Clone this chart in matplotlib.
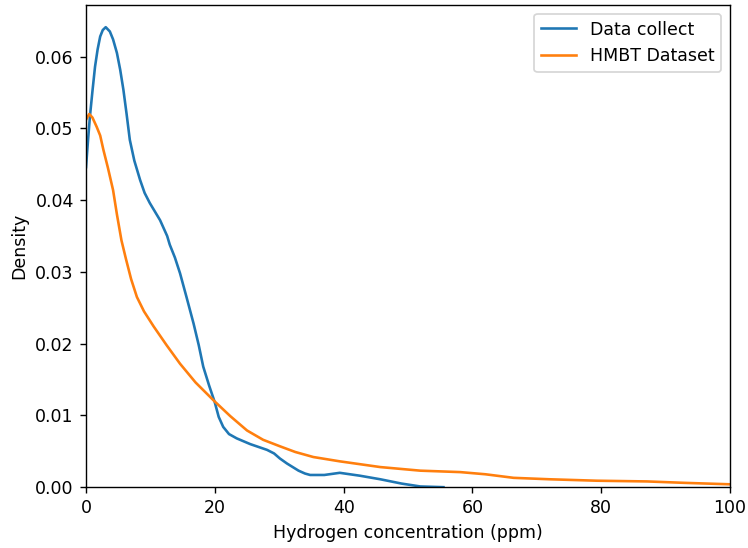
import matplotlib
matplotlib.use("Agg")
import matplotlib.pyplot as plt

# Data collect (blue) density curve
dc_x = [0.0, 0.3, 0.6, 1.0, 1.4, 1.8, 2.2, 2.6, 3.06, 3.7, 4.2, 4.8, 5.3, 5.8, 6.3, 6.8,
        7.5, 8.4, 9.1, 9.9, 10.7, 11.5, 12.6, 13.0, 13.8, 14.6, 15.6, 16.7, 17.5, 18.2,
        19.1, 20.0, 20.6, 21.3, 22.2, 23.4, 25.5, 28.1, 29.2, 30.1, 31.2, 33.0, 34.0,
        34.8, 37.0, 39.4, 42.5, 45.7, 49.0, 51.9, 55.5]
dc_y = [0.0446, 0.0482, 0.0516, 0.0552, 0.0586, 0.0610, 0.0628, 0.0637, 0.0641, 0.0635,
        0.0624, 0.0605, 0.0582, 0.0554, 0.0520, 0.0484, 0.0455, 0.0428, 0.0410, 0.0396,
        0.0384, 0.0372, 0.0350, 0.0338, 0.0320, 0.0298, 0.0265, 0.0228, 0.0198, 0.0168,
        0.0142, 0.0118, 0.0098, 0.0084, 0.0074, 0.0068, 0.0060, 0.0052, 0.0047, 0.0040,
        0.0033, 0.0023, 0.0019, 0.0017, 0.0017, 0.0020, 0.0016, 0.0011, 0.0005, 0.0001,
        0.0000]

# HMBT Dataset (orange) density curve
hm_x = [0.0, 0.5, 1.0, 1.66, 2.2, 2.7, 3.4, 4.2, 4.8, 5.5, 6.2, 7.0, 7.9, 9.0, 10.5,
        12.5, 14.6, 17.0, 19.8, 22.4, 25.0, 27.5, 30.1, 32.5, 35.3, 39.4, 45.7, 51.9,
        58.1, 62.0, 66.4, 72.0, 79.3, 87.1, 93.0, 100.0]
hm_y = [0.0512, 0.0520, 0.0515, 0.0502, 0.0490, 0.0470, 0.0445, 0.0414, 0.0380, 0.0344,
        0.0318, 0.0290, 0.0265, 0.0245, 0.0224, 0.0198, 0.0172, 0.0146, 0.0121, 0.0099,
        0.0079, 0.0066, 0.0057, 0.0049, 0.0042, 0.0036, 0.0028, 0.0023, 0.0021, 0.0018,
        0.0013, 0.0011, 0.0009, 0.0008, 0.0006, 0.0004]

fig = plt.figure(figsize=(7.48 / 1.25, 5.48 / 1.25), dpi=125)
ax = fig.add_axes([0.115, 0.111, 0.861, 0.880])
ax.plot(dc_x, dc_y, color="#1f77b4", label="Data collect")
ax.plot(hm_x, hm_y, color="#ff7f0e", label="HMBT Dataset")
ax.set_xlim(0, 100)
ax.set_ylim(0, 0.0672)
ax.set_xlabel("Hydrogen concentration (ppm)")
ax.set_ylabel("Density")
ax.legend(loc="upper right")
fig.savefig("out.png", dpi=125)
